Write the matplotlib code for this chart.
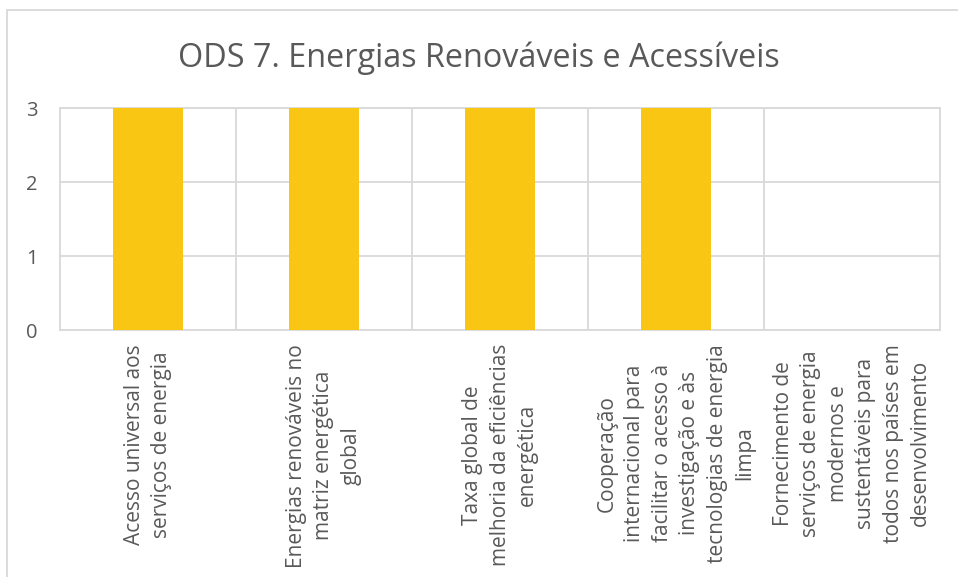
import numpy as np
import matplotlib.pyplot as plt
from matplotlib.patches import Rectangle

plt.rcParams['font.family'] = ['Open Sans', 'DejaVu Sans']

# data
categories = [
    "Acesso universal aos\nserviços de energia",
    "Energias renováveis no\nmatriz energética\nglobal",
    "Taxa global de\nmelhoria da eficiências\nenergética",
    "Cooperação\ninternacional para\nfacilitar o acesso à\ninvestigação e às\ntecnologias de energia\nlimpa",
    "Fornecimento de\nserviços de energia\nmodernos e\nsustentáveis para\ntodos nos países em\ndesenvolvimento",
]
values = [3, 3, 3, 3, 0]
yticks = [0, 1, 2, 3]

bar_col = '#F9C613'
grid_col = '#D9D9D9'
txt_col = '#595959'

fig = plt.figure(figsize=(9.58, 5.77), dpi=100)
ax = fig.add_axes([60/958, 1-330/577, 880/958, 222/577])

x = np.arange(len(categories))
ax.bar(x, values, width=0.40, color=bar_col, zorder=3)

ax.set_xlim(-0.5, len(categories)-0.5)
ax.set_ylim(0, 3)
ax.set_yticks(yticks)
ax.tick_params(axis='y', length=0, pad=16, labelsize=14.5, labelcolor=txt_col)

# category separators + horizontal grid
for b in np.arange(0.5, len(categories)-0.5, 1):
    ax.axvline(b, color=grid_col, lw=1.3, zorder=1)
ax.yaxis.grid(True, color=grid_col, lw=1.3, zorder=1)
for s in ax.spines.values():
    s.set_color(grid_col)
    s.set_linewidth(1.3)

ax.set_xticks(x)
ax.set_xticklabels([])
ax.tick_params(axis='x', length=0)
for xi, lab in zip(x, categories):
    ax.annotate(lab, xy=(xi, 0), xycoords='data', xytext=(0, -10),
                textcoords='offset points', rotation=90, ha='center', va='top',
                multialignment='center', fontsize=15, color=txt_col,
                linespacing=1.4)

fig.text(0.5, 1-58/577, "ODS 7. Energias Renováveis e Acessíveis",
         ha='center', va='center', fontsize=23.3, color=txt_col)

# chart frame
fig.patches.append(Rectangle((7/958, -0.1), 955/958, 1.1-10/577,
                             transform=fig.transFigure, fill=False,
                             edgecolor=grid_col, lw=1.3))

plt.savefig('out.png', dpi=100)
